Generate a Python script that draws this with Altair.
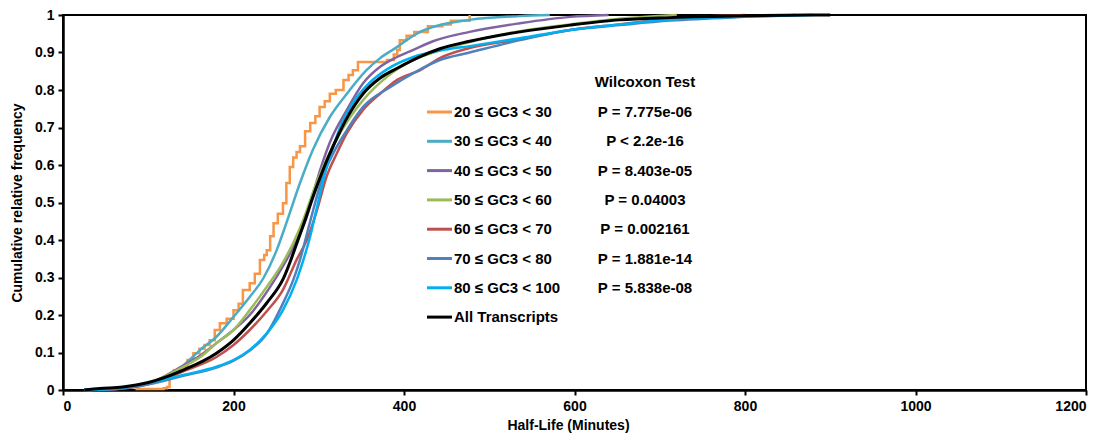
import altair as alt
import pandas as pd

series_names = ["20 ≤ GC3 < 30", "30 ≤ GC3 < 40", "40 ≤ GC3 < 50", "50 ≤ GC3 < 60",
                "60 ≤ GC3 < 70", "70 ≤ GC3 < 80", "80 ≤ GC3 < 100", "All Transcripts"]
series_colors = ["#f79646", "#4bacc6", "#8064a2", "#9bbb59",
                 "#c0504d", "#4f81bd", "#00b0f0", "#000000"]
p_values = ["P = 7.775e-06", "P < 2.2e-16", "P = 8.403e-05", "P = 0.04003",
            "P = 0.002161", "P = 1.881e-14", "P = 5.838e-08", ""]
header_text = ["Wilcoxon Test"]

x_ticks = [0, 200, 400, 600, 800, 1000, 1200]
y_ticks = [0, 0.1, 0.2, 0.3, 0.4, 0.5, 0.6, 0.7, 0.8, 0.9, 1.0]

# 20-30 (step curve)
x_20 = [85, 118, 122, 125, 130, 138, 146, 153, 160, 166, 172, 178, 184, 192, 200, 206, 211, 219,
        225, 231, 236, 239, 243, 247, 252, 258, 262, 266, 270, 274, 278, 284, 290, 296, 301, 307,
        313, 320, 329, 335, 340, 346, 380, 388, 392, 395, 403, 412, 428, 445, 455, 477]
y_20 = [0.003, 0.005, 0.008, 0.04, 0.053, 0.06, 0.08, 0.098, 0.11, 0.12, 0.133, 0.16, 0.178, 0.19,
        0.213, 0.23, 0.267, 0.285, 0.31, 0.347, 0.36, 0.373, 0.41, 0.445, 0.47, 0.498, 0.552, 0.595,
        0.62, 0.635, 0.65, 0.69, 0.712, 0.73, 0.755, 0.77, 0.79, 0.80, 0.827, 0.84, 0.853, 0.875,
        0.88, 0.895, 0.907, 0.933, 0.945, 0.955, 0.97, 0.975, 0.985, 1.0]
# 30-40
x_30 = [25, 60, 100, 122, 141, 161, 180, 200, 219, 235, 251, 262, 278, 293, 313, 333, 356, 372,
        392, 403, 419, 440, 477, 536, 571]
y_30 = [0, 0.003, 0.017, 0.035, 0.065, 0.107, 0.142, 0.195, 0.248, 0.298, 0.375, 0.445, 0.552,
        0.64, 0.728, 0.79, 0.853, 0.885, 0.915, 0.933, 0.955, 0.972, 0.987, 0.997, 1.0]
# 40-50
x_40 = [25, 60, 100, 141, 161, 180, 200, 219, 243, 258, 270, 286, 298, 313, 333, 352, 372, 392,
        411, 434, 477, 536, 595, 640]
y_40 = [0, 0.003, 0.017, 0.065, 0.092, 0.125, 0.16, 0.2, 0.275, 0.33, 0.38, 0.462, 0.56, 0.66,
        0.747, 0.818, 0.862, 0.888, 0.907, 0.93, 0.955, 0.978, 0.995, 1.0]
# 50-60
x_50 = [25, 60, 100, 141, 161, 180, 200, 219, 239, 258, 270, 282, 296, 305, 325, 352, 380, 411,
        442, 477, 536, 595, 653, 720]
y_50 = [0, 0.003, 0.017, 0.062, 0.088, 0.125, 0.16, 0.213, 0.275, 0.34, 0.392, 0.455, 0.545,
        0.595, 0.685, 0.773, 0.835, 0.88, 0.905, 0.928, 0.957, 0.975, 0.99, 1.0]
# 60-70
x_60 = [25, 60, 100, 141, 180, 200, 219, 239, 258, 274, 286, 298, 309, 321, 333, 352, 372, 392,
        419, 442, 477, 536, 595, 653, 712, 800]
y_60 = [0, 0.002, 0.015, 0.05, 0.088, 0.12, 0.16, 0.21, 0.267, 0.347, 0.40, 0.48, 0.568, 0.63,
        0.685, 0.747, 0.79, 0.827, 0.853, 0.885, 0.912, 0.935, 0.96, 0.975, 0.99, 1.0]
# 70-80
x_70 = [25, 60, 100, 141, 180, 200, 219, 239, 258, 270, 278, 290, 305, 313, 333, 352, 384, 411,
        442, 477, 536, 595, 653, 712, 800, 860]
y_70 = [0, 0.002, 0.015, 0.038, 0.06, 0.078, 0.105, 0.15, 0.231, 0.293, 0.347, 0.45, 0.57, 0.613,
        0.693, 0.755, 0.808, 0.845, 0.88, 0.90, 0.933, 0.96, 0.973, 0.985, 0.995, 1.0]
# 80-100
x_80 = [25, 60, 100, 141, 180, 200, 219, 239, 258, 274, 282, 290, 298, 307, 315, 325, 340, 360,
        380, 411, 442, 477, 536, 595, 653, 712, 800, 880]
y_80 = [0, 0.004, 0.019, 0.04, 0.062, 0.08, 0.107, 0.151, 0.213, 0.293, 0.347, 0.41, 0.488, 0.575,
        0.635, 0.70, 0.765, 0.82, 0.855, 0.888, 0.905, 0.917, 0.938, 0.96, 0.975, 0.988, 0.996, 1.0]
# All transcripts
x_all = [25, 43, 70, 100, 141, 180, 200, 219, 239, 258, 278, 298, 311, 323, 333, 352, 372, 392,
         419, 442, 477, 536, 595, 653, 712, 800, 900]
y_all = [0, 0.004, 0.008, 0.02, 0.053, 0.098, 0.133, 0.178, 0.232, 0.295, 0.415, 0.545, 0.62,
         0.68, 0.725, 0.79, 0.832, 0.858, 0.889, 0.91, 0.93, 0.955, 0.973, 0.987, 0.993, 0.998, 1.0]

all_x = [x_20, x_30, x_40, x_50, x_60, x_70, x_80, x_all]
all_y = [y_20, y_30, y_40, y_50, y_60, y_70, y_80, y_all]

records = []
for name, xs, ys in zip(series_names, all_x, all_y):
    for i, (a, b) in enumerate(zip(xs, ys)):
        records.append({"series": name, "half_life": a, "freq": b, "idx": i})
df = pd.DataFrame(records)

legend_df = pd.DataFrame({"series": series_names, "row": list(range(len(series_names))), "p": p_values})
header_df = pd.DataFrame({"t": header_text})

FONT = "Liberation Sans"
color_scale = alt.Scale(domain=series_names, range=series_colors)

x_enc = alt.X("half_life:Q", scale=alt.Scale(domain=[0, 1200], nice=False),
              axis=alt.Axis(values=x_ticks, format="d", title="Half-Life (Minutes)",
                            labelOverlap=False, tickCount=20,
                            titleX=505, titleY=35, titleBaseline="middle", titleAlign="center"))
y_enc = alt.Y("freq:Q", scale=alt.Scale(domain=[0, 1], nice=False),
              axis=alt.Axis(values=y_ticks, format="~g", title="Cumulative relative frequency",
                            labelOverlap=False, tickCount=20,
                            titleX=-46, titleY=187.5, titleAngle=-90, titleBaseline="middle",
                            titleAlign="center"))
col = alt.Color("series:N", scale=color_scale, legend=None)

orange = alt.Chart(df[df.series == series_names[0]]).mark_line(
    strokeWidth=2.5, interpolate="step-after").encode(x=x_enc, y=y_enc, color=col, order="idx:Q")
mids = alt.Chart(df[(df.series != series_names[0]) & (df.series != series_names[-1])]).mark_line(
    strokeWidth=2.5, interpolate="monotone").encode(x=x_enc, y=y_enc, color=col, order="idx:Q")
black = alt.Chart(df[df.series == series_names[-1]]).mark_line(
    strokeWidth=3, interpolate="monotone").encode(x=x_enc, y=y_enc, color=col, order="idx:Q")

leg_base = alt.Chart(legend_df).transform_calculate(freq="1 - (97 + datum.row * 29.3) / 375")
leg_rules = leg_base.mark_rule(strokeWidth=3).encode(
    x=alt.value(364), x2=alt.value(389), y=y_enc, color=col)
leg_text = leg_base.mark_text(align="left", baseline="middle", font=FONT, fontSize=15,
                              fontWeight="bold", color="black").encode(
    x=alt.value(391), y=y_enc, text="series:N")
p_text = leg_base.mark_text(align="center", baseline="middle", font=FONT, fontSize=15,
                            fontWeight="bold", color="black").encode(
    x=alt.value(582), y=y_enc, text="p:N")
head = alt.Chart(header_df).transform_calculate(freq="1 - 67 / 375").mark_text(
    align="center", baseline="middle", font=FONT, fontSize=15, fontWeight="bold", color="black").encode(
    x=alt.value(582), y=y_enc, text="t:N")

chart = alt.layer(orange, mids, black, leg_rules, leg_text, p_text, head).properties(
    width=1023, height=375,
    autosize=alt.AutoSizeParams(type="none"),
    padding={"left": 63, "top": 15, "right": 21, "bottom": 48},
    background="white",
).configure_view(stroke="black", strokeWidth=2).configure_axis(
    grid=False, domainColor="black", domainWidth=2.5, tickColor="black", tickWidth=2, tickSize=5,
    labelFont=FONT, labelFontSize=14, labelFontWeight="bold", labelColor="black", labelPadding=4,
    labelOverlap=False,
    titleFont=FONT, titleFontSize=14, titleFontWeight="bold", titleColor="black",
)

chart.save("out.html", embed_options={"renderer": "svg", "actions": False})
